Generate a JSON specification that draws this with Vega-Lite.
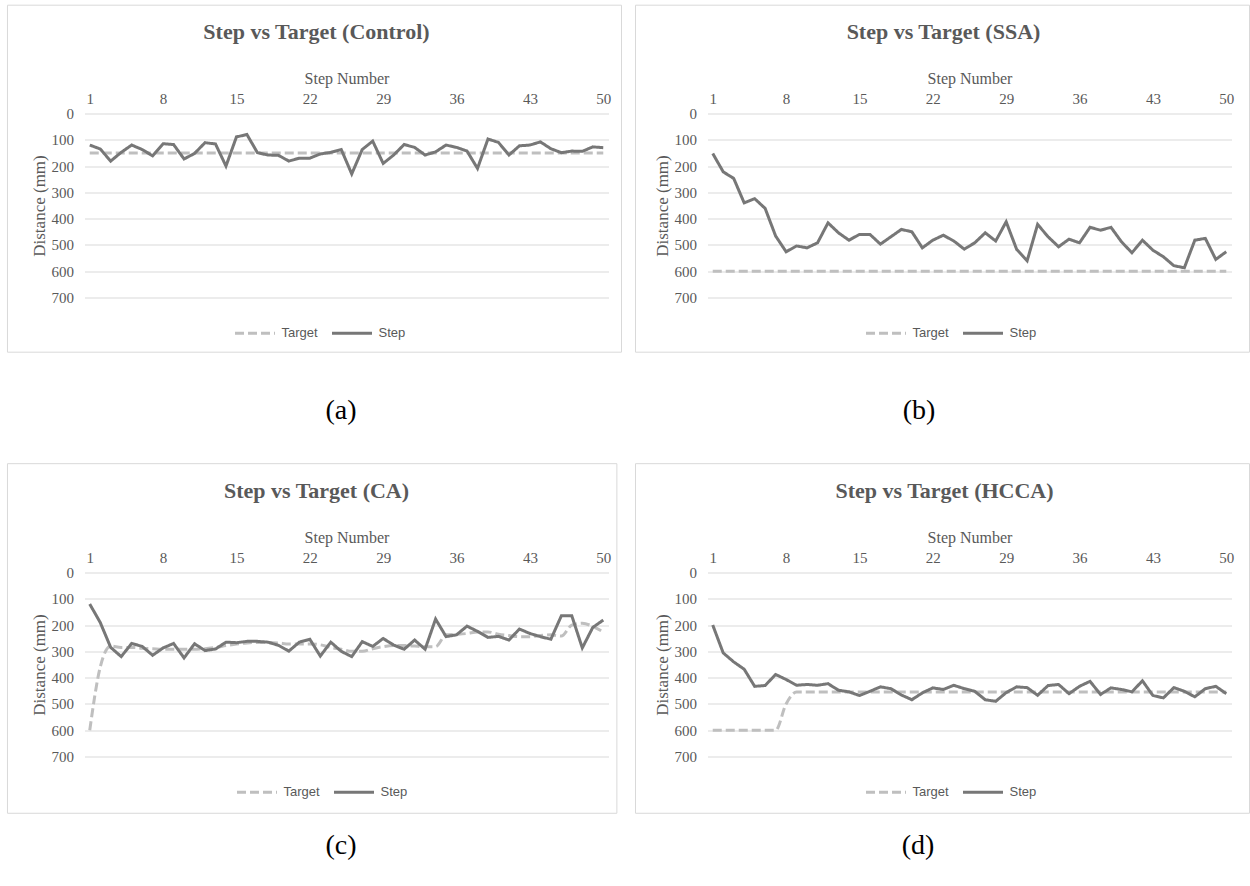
{
  "$schema": "https://vega.github.io/schema/vega-lite/v6.json",
  "padding": {"left": 6.5, "top": 4.5, "right": 0, "bottom": 0},
  "background": "white",
  "columns": 2,
  "spacing": {"row": 275, "column": 99},
  "bounds": "flush",
  "resolve": {"scale": {"color": "independent", "strokeDash": "independent"}, "legend": {"color": "independent", "strokeDash": "independent"}},
  "datasets": {
    "steps": [
      {"p":"a","step":1,"Target":150,"Step":120},{"p":"a","step":2,"Target":150,"Step":135},{"p":"a","step":3,"Target":150,"Step":181},{"p":"a","step":4,"Target":150,"Step":148},{"p":"a","step":5,"Target":150,"Step":120},
      {"p":"a","step":6,"Target":150,"Step":137},{"p":"a","step":7,"Target":150,"Step":161},{"p":"a","step":8,"Target":150,"Step":115},{"p":"a","step":9,"Target":150,"Step":118},{"p":"a","step":10,"Target":150,"Step":173},
      {"p":"a","step":11,"Target":150,"Step":152},{"p":"a","step":12,"Target":150,"Step":111},{"p":"a","step":13,"Target":150,"Step":116},{"p":"a","step":14,"Target":150,"Step":200},{"p":"a","step":15,"Target":150,"Step":89},
      {"p":"a","step":16,"Target":150,"Step":80},{"p":"a","step":17,"Target":150,"Step":149},{"p":"a","step":18,"Target":150,"Step":158},{"p":"a","step":19,"Target":150,"Step":159},{"p":"a","step":20,"Target":150,"Step":181},
      {"p":"a","step":21,"Target":150,"Step":170},{"p":"a","step":22,"Target":150,"Step":170},{"p":"a","step":23,"Target":150,"Step":154},{"p":"a","step":24,"Target":150,"Step":148},{"p":"a","step":25,"Target":150,"Step":137},
      {"p":"a","step":26,"Target":150,"Step":230},{"p":"a","step":27,"Target":150,"Step":137},{"p":"a","step":28,"Target":150,"Step":105},{"p":"a","step":29,"Target":150,"Step":190},{"p":"a","step":30,"Target":150,"Step":158},
      {"p":"a","step":31,"Target":150,"Step":118},{"p":"a","step":32,"Target":150,"Step":129},{"p":"a","step":33,"Target":150,"Step":158},{"p":"a","step":34,"Target":150,"Step":146},{"p":"a","step":35,"Target":150,"Step":120},
      {"p":"a","step":36,"Target":150,"Step":129},{"p":"a","step":37,"Target":150,"Step":143},{"p":"a","step":38,"Target":150,"Step":209},{"p":"a","step":39,"Target":150,"Step":97},{"p":"a","step":40,"Target":150,"Step":110},
      {"p":"a","step":41,"Target":150,"Step":158},{"p":"a","step":42,"Target":150,"Step":123},{"p":"a","step":43,"Target":150,"Step":120},{"p":"a","step":44,"Target":150,"Step":108},{"p":"a","step":45,"Target":150,"Step":134},
      {"p":"a","step":46,"Target":150,"Step":149},{"p":"a","step":47,"Target":150,"Step":143},{"p":"a","step":48,"Target":150,"Step":144},{"p":"a","step":49,"Target":150,"Step":127},{"p":"a","step":50,"Target":150,"Step":130},

      {"p":"b","step":1,"Target":600,"Step":152},{"p":"b","step":2,"Target":600,"Step":222},{"p":"b","step":3,"Target":600,"Step":247},{"p":"b","step":4,"Target":600,"Step":340},{"p":"b","step":5,"Target":600,"Step":324},
      {"p":"b","step":6,"Target":600,"Step":361},{"p":"b","step":7,"Target":600,"Step":466},{"p":"b","step":8,"Target":600,"Step":526},{"p":"b","step":9,"Target":600,"Step":504},{"p":"b","step":10,"Target":600,"Step":511},
      {"p":"b","step":11,"Target":600,"Step":492},{"p":"b","step":12,"Target":600,"Step":416},{"p":"b","step":13,"Target":600,"Step":454},{"p":"b","step":14,"Target":600,"Step":482},{"p":"b","step":15,"Target":600,"Step":460},
      {"p":"b","step":16,"Target":600,"Step":460},{"p":"b","step":17,"Target":600,"Step":497},{"p":"b","step":18,"Target":600,"Step":469},{"p":"b","step":19,"Target":600,"Step":441},{"p":"b","step":20,"Target":600,"Step":450},
      {"p":"b","step":21,"Target":600,"Step":511},{"p":"b","step":22,"Target":600,"Step":482},{"p":"b","step":23,"Target":600,"Step":463},{"p":"b","step":24,"Target":600,"Step":485},{"p":"b","step":25,"Target":600,"Step":516},
      {"p":"b","step":26,"Target":600,"Step":492},{"p":"b","step":27,"Target":600,"Step":454},{"p":"b","step":28,"Target":600,"Step":485},{"p":"b","step":29,"Target":600,"Step":412},{"p":"b","step":30,"Target":600,"Step":517},
      {"p":"b","step":31,"Target":600,"Step":560},{"p":"b","step":32,"Target":600,"Step":422},{"p":"b","step":33,"Target":600,"Step":469},{"p":"b","step":34,"Target":600,"Step":507},{"p":"b","step":35,"Target":600,"Step":478},
      {"p":"b","step":36,"Target":600,"Step":492},{"p":"b","step":37,"Target":600,"Step":433},{"p":"b","step":38,"Target":600,"Step":444},{"p":"b","step":39,"Target":600,"Step":433},{"p":"b","step":40,"Target":600,"Step":488},
      {"p":"b","step":41,"Target":600,"Step":530},{"p":"b","step":42,"Target":600,"Step":482},{"p":"b","step":43,"Target":600,"Step":520},{"p":"b","step":44,"Target":600,"Step":545},{"p":"b","step":45,"Target":600,"Step":579},
      {"p":"b","step":46,"Target":600,"Step":587},{"p":"b","step":47,"Target":600,"Step":482},{"p":"b","step":48,"Target":600,"Step":475},{"p":"b","step":49,"Target":600,"Step":555},{"p":"b","step":50,"Target":600,"Step":526},

      {"p":"c","step":1,"Target":600,"Step":120},{"p":"c","step":2,"Target":360,"Step":190},{"p":"c","step":3,"Target":280,"Step":285},{"p":"c","step":4,"Target":285,"Step":320},{"p":"c","step":5,"Target":285,"Step":270},
      {"p":"c","step":6,"Target":288,"Step":281},{"p":"c","step":7,"Target":290,"Step":315},{"p":"c","step":8,"Target":292,"Step":287},{"p":"c","step":9,"Target":292,"Step":270},{"p":"c","step":10,"Target":292,"Step":325},
      {"p":"c","step":11,"Target":292,"Step":271},{"p":"c","step":12,"Target":290,"Step":297},{"p":"c","step":13,"Target":285,"Step":291},{"p":"c","step":14,"Target":278,"Step":265},{"p":"c","step":15,"Target":272,"Step":267},
      {"p":"c","step":16,"Target":268,"Step":262},{"p":"c","step":17,"Target":266,"Step":262},{"p":"c","step":18,"Target":266,"Step":265},{"p":"c","step":19,"Target":268,"Step":277},{"p":"c","step":20,"Target":272,"Step":299},
      {"p":"c","step":21,"Target":272,"Step":265},{"p":"c","step":22,"Target":272,"Step":254},{"p":"c","step":23,"Target":275,"Step":318},{"p":"c","step":24,"Target":285,"Step":265},{"p":"c","step":25,"Target":292,"Step":300},
      {"p":"c","step":26,"Target":300,"Step":320},{"p":"c","step":27,"Target":300,"Step":263},{"p":"c","step":28,"Target":290,"Step":281},{"p":"c","step":29,"Target":282,"Step":251},{"p":"c","step":30,"Target":278,"Step":276},
      {"p":"c","step":31,"Target":278,"Step":292},{"p":"c","step":32,"Target":280,"Step":257},{"p":"c","step":33,"Target":282,"Step":292},{"p":"c","step":34,"Target":282,"Step":177},{"p":"c","step":35,"Target":237,"Step":244},
      {"p":"c","step":36,"Target":235,"Step":237},{"p":"c","step":37,"Target":232,"Step":204},{"p":"c","step":38,"Target":226,"Step":224},{"p":"c","step":39,"Target":226,"Step":247},{"p":"c","step":40,"Target":235,"Step":243},
      {"p":"c","step":41,"Target":240,"Step":257},{"p":"c","step":42,"Target":244,"Step":215},{"p":"c","step":43,"Target":244,"Step":232},{"p":"c","step":44,"Target":240,"Step":244},{"p":"c","step":45,"Target":237,"Step":254},
      {"p":"c","step":46,"Target":242,"Step":165},{"p":"c","step":47,"Target":200,"Step":165},{"p":"c","step":48,"Target":193,"Step":287},{"p":"c","step":49,"Target":205,"Step":209},{"p":"c","step":50,"Target":226,"Step":181},

      {"p":"d","step":1,"Target":600,"Step":200},{"p":"d","step":2,"Target":600,"Step":306},{"p":"d","step":3,"Target":600,"Step":340},{"p":"d","step":4,"Target":600,"Step":368},{"p":"d","step":5,"Target":600,"Step":433},
      {"p":"d","step":6,"Target":600,"Step":430},{"p":"d","step":7,"Target":600,"Step":388},{"p":"d","step":8,"Target":500,"Step":407},{"p":"d","step":9,"Target":455,"Step":429},{"p":"d","step":10,"Target":455,"Step":426},
      {"p":"d","step":11,"Target":455,"Step":429},{"p":"d","step":12,"Target":455,"Step":423},{"p":"d","step":13,"Target":455,"Step":448},{"p":"d","step":14,"Target":455,"Step":454},{"p":"d","step":15,"Target":455,"Step":468},
      {"p":"d","step":16,"Target":455,"Step":452},{"p":"d","step":17,"Target":455,"Step":435},{"p":"d","step":18,"Target":455,"Step":442},{"p":"d","step":19,"Target":455,"Step":466},{"p":"d","step":20,"Target":455,"Step":484},
      {"p":"d","step":21,"Target":455,"Step":458},{"p":"d","step":22,"Target":455,"Step":439},{"p":"d","step":23,"Target":455,"Step":445},{"p":"d","step":24,"Target":455,"Step":429},{"p":"d","step":25,"Target":455,"Step":442},
      {"p":"d","step":26,"Target":455,"Step":452},{"p":"d","step":27,"Target":455,"Step":484},{"p":"d","step":28,"Target":455,"Step":490},{"p":"d","step":29,"Target":455,"Step":457},{"p":"d","step":30,"Target":455,"Step":435},
      {"p":"d","step":31,"Target":455,"Step":438},{"p":"d","step":32,"Target":455,"Step":467},{"p":"d","step":33,"Target":455,"Step":430},{"p":"d","step":34,"Target":455,"Step":426},{"p":"d","step":35,"Target":455,"Step":461},
      {"p":"d","step":36,"Target":455,"Step":433},{"p":"d","step":37,"Target":455,"Step":414},{"p":"d","step":38,"Target":455,"Step":464},{"p":"d","step":39,"Target":455,"Step":439},{"p":"d","step":40,"Target":455,"Step":445},
      {"p":"d","step":41,"Target":455,"Step":454},{"p":"d","step":42,"Target":455,"Step":412},{"p":"d","step":43,"Target":455,"Step":468},{"p":"d","step":44,"Target":455,"Step":477},{"p":"d","step":45,"Target":455,"Step":438},
      {"p":"d","step":46,"Target":455,"Step":452},{"p":"d","step":47,"Target":455,"Step":473},{"p":"d","step":48,"Target":455,"Step":442},{"p":"d","step":49,"Target":455,"Step":433},{"p":"d","step":50,"Target":455,"Step":461}
    ]
  },
  "concat": [
    {
      "width": 524, "height": 184,
      "title": {"text": "Step vs Target (Control)", "dx": -30},
      "resolve": {"axis": {"x": "independent"}},
      "layer": [
        {"data": {"values": [{"k": 1}]},
         "mark": {"type": "rect", "fill": "transparent", "stroke": "#d9d9d9", "strokeWidth": 1},
         "encoding": {"x": {"datum": -6.85, "type": "quantitative", "axis": null}, "x2": {"datum": 51.74},
                      "y": {"datum": -412, "type": "quantitative", "scale": {"domain": [0, 700], "reverse": true, "nice": false, "zero": false},
                            "axis": {"values": [0,100,200,300,400,500,600,700], "format": "d", "grid": true, "labelPadding": 11, "title": "Distance (mm)", "titleFontSize": 17, "titlePadding": 3}},
                      "y2": {"datum": 908}}},
        {"data": {"name": "steps"},
         "transform": [{"filter": "datum.p == 'a'"}, {"fold": ["Target"], "as": ["series", "value"]}],
         "mark": {"type": "line", "interpolate": "monotone", "strokeWidth": 3},
         "encoding": {
           "x": {"field": "step", "type": "quantitative", "scale": {"domain": [0.5, 50.5], "nice": false, "zero": false},
                 "axis": {"orient": "bottom", "labels": false, "grid": false, "title": "(a)", "titleFontSize": 28, "titleColor": "#000000", "titleX": 256, "titleY": 113, "titleBaseline": "middle"}},
           "y": {"field": "value", "type": "quantitative", "scale": {"domain": [0, 700], "reverse": true, "nice": false, "zero": false},
                 "axis": {"values": [0,100,200,300,400,500,600,700], "format": "d", "grid": true, "labelPadding": 11, "title": "Distance (mm)", "titleFontSize": 17, "titlePadding": 3}},
           "color": {"field": "series", "type": "nominal", "scale": {"domain": ["Target", "Step"], "range": ["#bfbfbf", "#777777"]}, "legend": {"title": null, "legendX": 149, "legendY": 198}},
           "strokeDash": {"field": "series", "type": "nominal", "scale": {"domain": ["Target", "Step"], "range": [[9, 4], [1, 0]]}, "legend": {"title": null, "legendX": 149, "legendY": 198}}
         }},
        {"data": {"name": "steps"},
         "transform": [{"filter": "datum.p == 'a'"}, {"fold": ["Step"], "as": ["series", "value"]}],
         "mark": {"type": "line", "strokeWidth": 3},
         "encoding": {
           "x": {"field": "step", "type": "quantitative", "scale": {"domain": [0.5, 50.5], "nice": false, "zero": false},
                 "axis": {"orient": "top", "values": [1,8,15,22,29,36,43,50], "format": "d", "grid": false, "labelPadding": 7, "title": "Step Number", "titleFontSize": 16, "titlePadding": 5}},
           "y": {"field": "value", "type": "quantitative", "scale": {"domain": [0, 700], "reverse": true, "nice": false, "zero": false},
                 "axis": {"values": [0,100,200,300,400,500,600,700], "format": "d", "grid": true, "labelPadding": 11, "title": "Distance (mm)", "titleFontSize": 17, "titlePadding": 3}},
           "color": {"field": "series", "type": "nominal", "scale": {"domain": ["Target", "Step"], "range": ["#bfbfbf", "#777777"]}, "legend": {"title": null, "legendX": 149, "legendY": 198}},
           "strokeDash": {"field": "series", "type": "nominal", "scale": {"domain": ["Target", "Step"], "range": [[9, 4], [1, 0]]}, "legend": {"title": null, "legendX": 149, "legendY": 198}}
         }}
      ]
    },
    {
      "width": 524, "height": 184,
      "title": {"text": "Step vs Target (SSA)", "dx": -26},
      "resolve": {"axis": {"x": "independent"}},
      "layer": [
        {"data": {"values": [{"k": 1}]},
         "mark": {"type": "rect", "fill": "transparent", "stroke": "#d9d9d9", "strokeWidth": 1},
         "encoding": {"x": {"datum": -6.37, "type": "quantitative", "axis": null}, "x2": {"datum": 52.22},
                      "y": {"datum": -412, "type": "quantitative", "scale": {"domain": [0, 700], "reverse": true, "nice": false, "zero": false},
                            "axis": {"values": [0,100,200,300,400,500,600,700], "format": "d", "grid": true, "labelPadding": 11, "title": "Distance (mm)", "titleFontSize": 17, "titlePadding": 3}},
                      "y2": {"datum": 908}}},
        {"data": {"name": "steps"},
         "transform": [{"filter": "datum.p == 'b'"}, {"fold": ["Target"], "as": ["series", "value"]}],
         "mark": {"type": "line", "interpolate": "monotone", "strokeWidth": 3},
         "encoding": {
           "x": {"field": "step", "type": "quantitative", "scale": {"domain": [0.5, 50.5], "nice": false, "zero": false},
                 "axis": {"orient": "bottom", "labels": false, "grid": false, "title": "(b)", "titleFontSize": 28, "titleColor": "#000000", "titleX": 211, "titleY": 113, "titleBaseline": "middle"}},
           "y": {"field": "value", "type": "quantitative", "scale": {"domain": [0, 700], "reverse": true, "nice": false, "zero": false},
                 "axis": {"values": [0,100,200,300,400,500,600,700], "format": "d", "grid": true, "labelPadding": 11, "title": "Distance (mm)", "titleFontSize": 17, "titlePadding": 3}},
           "color": {"field": "series", "type": "nominal", "scale": {"domain": ["Target", "Step"], "range": ["#bfbfbf", "#777777"]}, "legend": {"title": null, "legendX": 157, "legendY": 198}},
           "strokeDash": {"field": "series", "type": "nominal", "scale": {"domain": ["Target", "Step"], "range": [[9, 4], [1, 0]]}, "legend": {"title": null, "legendX": 157, "legendY": 198}}
         }},
        {"data": {"name": "steps"},
         "transform": [{"filter": "datum.p == 'b'"}, {"fold": ["Step"], "as": ["series", "value"]}],
         "mark": {"type": "line", "strokeWidth": 3},
         "encoding": {
           "x": {"field": "step", "type": "quantitative", "scale": {"domain": [0.5, 50.5], "nice": false, "zero": false},
                 "axis": {"orient": "top", "values": [1,8,15,22,29,36,43,50], "format": "d", "grid": false, "labelPadding": 7, "title": "Step Number", "titleFontSize": 16, "titlePadding": 5}},
           "y": {"field": "value", "type": "quantitative", "scale": {"domain": [0, 700], "reverse": true, "nice": false, "zero": false},
                 "axis": {"values": [0,100,200,300,400,500,600,700], "format": "d", "grid": true, "labelPadding": 11, "title": "Distance (mm)", "titleFontSize": 17, "titlePadding": 3}},
           "color": {"field": "series", "type": "nominal", "scale": {"domain": ["Target", "Step"], "range": ["#bfbfbf", "#777777"]}, "legend": {"title": null, "legendX": 157, "legendY": 198}},
           "strokeDash": {"field": "series", "type": "nominal", "scale": {"domain": ["Target", "Step"], "range": [[9, 4], [1, 0]]}, "legend": {"title": null, "legendX": 157, "legendY": 198}}
         }}
      ]
    },
    {
      "width": 524, "height": 184,
      "title": {"text": "Step vs Target (CA)", "dx": -30},
      "resolve": {"axis": {"x": "independent"}},
      "layer": [
        {"data": {"values": [{"k": 1}]},
         "mark": {"type": "rect", "fill": "transparent", "stroke": "#d9d9d9", "strokeWidth": 1},
         "encoding": {"x": {"datum": -6.85, "type": "quantitative", "axis": null}, "x2": {"datum": 51.3},
                      "y": {"datum": -414, "type": "quantitative", "scale": {"domain": [0, 700], "reverse": true, "nice": false, "zero": false},
                            "axis": {"values": [0,100,200,300,400,500,600,700], "format": "d", "grid": true, "labelPadding": 11, "title": "Distance (mm)", "titleFontSize": 17, "titlePadding": 3}},
                      "y2": {"datum": 916}}},
        {"data": {"name": "steps"},
         "transform": [{"filter": "datum.p == 'c'"}, {"fold": ["Target"], "as": ["series", "value"]}],
         "mark": {"type": "line", "interpolate": "monotone", "strokeWidth": 3},
         "encoding": {
           "x": {"field": "step", "type": "quantitative", "scale": {"domain": [0.5, 50.5], "nice": false, "zero": false},
                 "axis": {"orient": "bottom", "labels": false, "grid": false, "title": "(c)", "titleFontSize": 28, "titleColor": "#000000", "titleX": 256, "titleY": 89, "titleBaseline": "middle"}},
           "y": {"field": "value", "type": "quantitative", "scale": {"domain": [0, 700], "reverse": true, "nice": false, "zero": false},
                 "axis": {"values": [0,100,200,300,400,500,600,700], "format": "d", "grid": true, "labelPadding": 11, "title": "Distance (mm)", "titleFontSize": 17, "titlePadding": 3}},
           "color": {"field": "series", "type": "nominal", "scale": {"domain": ["Target", "Step"], "range": ["#bfbfbf", "#777777"]}, "legend": {"title": null, "legendX": 151, "legendY": 198}},
           "strokeDash": {"field": "series", "type": "nominal", "scale": {"domain": ["Target", "Step"], "range": [[9, 4], [1, 0]]}, "legend": {"title": null, "legendX": 151, "legendY": 198}}
         }},
        {"data": {"name": "steps"},
         "transform": [{"filter": "datum.p == 'c'"}, {"fold": ["Step"], "as": ["series", "value"]}],
         "mark": {"type": "line", "strokeWidth": 3},
         "encoding": {
           "x": {"field": "step", "type": "quantitative", "scale": {"domain": [0.5, 50.5], "nice": false, "zero": false},
                 "axis": {"orient": "top", "values": [1,8,15,22,29,36,43,50], "format": "d", "grid": false, "labelPadding": 7, "title": "Step Number", "titleFontSize": 16, "titlePadding": 5}},
           "y": {"field": "value", "type": "quantitative", "scale": {"domain": [0, 700], "reverse": true, "nice": false, "zero": false},
                 "axis": {"values": [0,100,200,300,400,500,600,700], "format": "d", "grid": true, "labelPadding": 11, "title": "Distance (mm)", "titleFontSize": 17, "titlePadding": 3}},
           "color": {"field": "series", "type": "nominal", "scale": {"domain": ["Target", "Step"], "range": ["#bfbfbf", "#777777"]}, "legend": {"title": null, "legendX": 151, "legendY": 198}},
           "strokeDash": {"field": "series", "type": "nominal", "scale": {"domain": ["Target", "Step"], "range": [[9, 4], [1, 0]]}, "legend": {"title": null, "legendX": 151, "legendY": 198}}
         }}
      ]
    },
    {
      "width": 524, "height": 184,
      "title": {"text": "Step vs Target (HCCA)", "dx": -25},
      "resolve": {"axis": {"x": "independent"}},
      "layer": [
        {"data": {"values": [{"k": 1}]},
         "mark": {"type": "rect", "fill": "transparent", "stroke": "#d9d9d9", "strokeWidth": 1},
         "encoding": {"x": {"datum": -6.37, "type": "quantitative", "axis": null}, "x2": {"datum": 52.22},
                      "y": {"datum": -414, "type": "quantitative", "scale": {"domain": [0, 700], "reverse": true, "nice": false, "zero": false},
                            "axis": {"values": [0,100,200,300,400,500,600,700], "format": "d", "grid": true, "labelPadding": 11, "title": "Distance (mm)", "titleFontSize": 17, "titlePadding": 3}},
                      "y2": {"datum": 916}}},
        {"data": {"name": "steps"},
         "transform": [{"filter": "datum.p == 'd'"}, {"fold": ["Target"], "as": ["series", "value"]}],
         "mark": {"type": "line", "interpolate": "monotone", "strokeWidth": 3},
         "encoding": {
           "x": {"field": "step", "type": "quantitative", "scale": {"domain": [0.5, 50.5], "nice": false, "zero": false},
                 "axis": {"orient": "bottom", "labels": false, "grid": false, "title": "(d)", "titleFontSize": 28, "titleColor": "#000000", "titleX": 210, "titleY": 89, "titleBaseline": "middle"}},
           "y": {"field": "value", "type": "quantitative", "scale": {"domain": [0, 700], "reverse": true, "nice": false, "zero": false},
                 "axis": {"values": [0,100,200,300,400,500,600,700], "format": "d", "grid": true, "labelPadding": 11, "title": "Distance (mm)", "titleFontSize": 17, "titlePadding": 3}},
           "color": {"field": "series", "type": "nominal", "scale": {"domain": ["Target", "Step"], "range": ["#bfbfbf", "#777777"]}, "legend": {"title": null, "legendX": 157, "legendY": 198}},
           "strokeDash": {"field": "series", "type": "nominal", "scale": {"domain": ["Target", "Step"], "range": [[9, 4], [1, 0]]}, "legend": {"title": null, "legendX": 157, "legendY": 198}}
         }},
        {"data": {"name": "steps"},
         "transform": [{"filter": "datum.p == 'd'"}, {"fold": ["Step"], "as": ["series", "value"]}],
         "mark": {"type": "line", "strokeWidth": 3},
         "encoding": {
           "x": {"field": "step", "type": "quantitative", "scale": {"domain": [0.5, 50.5], "nice": false, "zero": false},
                 "axis": {"orient": "top", "values": [1,8,15,22,29,36,43,50], "format": "d", "grid": false, "labelPadding": 7, "title": "Step Number", "titleFontSize": 16, "titlePadding": 5}},
           "y": {"field": "value", "type": "quantitative", "scale": {"domain": [0, 700], "reverse": true, "nice": false, "zero": false},
                 "axis": {"values": [0,100,200,300,400,500,600,700], "format": "d", "grid": true, "labelPadding": 11, "title": "Distance (mm)", "titleFontSize": 17, "titlePadding": 3}},
           "color": {"field": "series", "type": "nominal", "scale": {"domain": ["Target", "Step"], "range": ["#bfbfbf", "#777777"]}, "legend": {"title": null, "legendX": 157, "legendY": 198}},
           "strokeDash": {"field": "series", "type": "nominal", "scale": {"domain": ["Target", "Step"], "range": [[9, 4], [1, 0]]}, "legend": {"title": null, "legendX": 157, "legendY": 198}}
         }}
      ]
    }
  ],
  "config": {
    "view": {"stroke": null},
    "font": "Liberation Serif",
    "title": {"font": "Liberation Serif", "fontSize": 22, "fontWeight": "bold", "color": "#595959", "anchor": "middle", "offset": -39.5},
    "axis": {"labelFont": "Liberation Serif", "labelFontSize": 15, "labelColor": "#595959", "titleFont": "Liberation Serif", "titleFontWeight": "normal", "titleColor": "#595959", "ticks": false, "domain": false, "gridColor": "#d9d9d9", "gridWidth": 1, "labelFlush": false},
    "legend": {"orient": "none", "direction": "horizontal", "symbolType": "stroke", "symbolSize": 1600, "symbolStrokeWidth": 3, "labelFont": "Liberation Sans", "labelFontSize": 13, "labelColor": "#595959", "labelOffset": 5, "columnPadding": 7},
    "line": {"strokeCap": "butt"}
  }
}
